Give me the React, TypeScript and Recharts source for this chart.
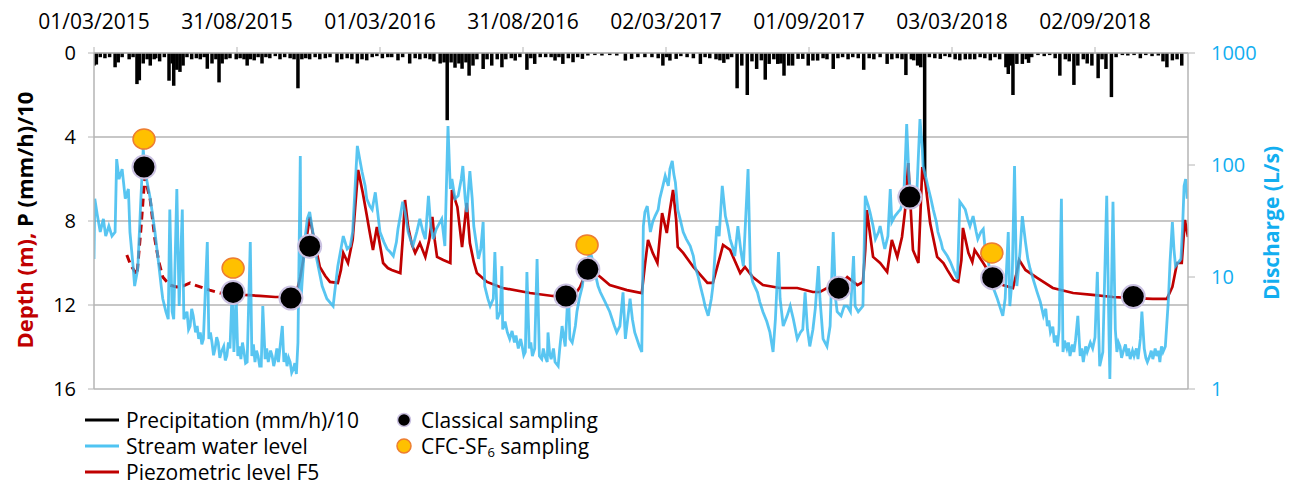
import { ComposedChart, Bar, Line, Scatter, XAxis, YAxis, CartesianGrid } from "recharts";

// x values are days since 01/03/2015
const dateTicks = [0, 183, 366, 549, 732, 915, 1098, 1281];
const dateLabels = ["01/03/2015", "31/08/2015", "01/03/2016", "31/08/2016", "02/03/2017", "01/09/2017", "03/03/2018", "02/09/2018"];
const depthTicks = [0, 4, 8, 12, 16];
const dischargeTicks = [1, 10, 100, 1000];

// [day, (mm/h)/10]
const precipitation: [number, number][] = [
  [0, 0.6], [3, 0.55], [8, 0.2], [14, 0.25], [20, 0.2], [27, 0.68], [31, 0.45], [36, 0.2], [45, 0.3], [50, 0.2],
  [55, 1.48], [58, 1.3], [63, 0.5], [68, 0.3], [72, 0.6], [77, 0.3], [79, 0.25], [84, 0.4], [90, 0.2], [96, 1.32],
  [100, 0.5], [102, 1.56], [106, 0.8], [110, 0.9], [114, 0.6], [119, 0.2], [125, 0.3], [131, 0.25], [136, 0.3], [141, 0.2],
  [145, 0.75], [151, 0.5], [156, 0.3], [160, 1.4], [164, 0.5], [169, 0.3], [174, 0.25], [182, 0.3], [187, 0.25], [192, 0.3],
  [196, 0.6], [200, 0.3], [205, 0.35], [210, 0.2], [215, 0.5], [220, 0.2], [225, 0.25], [232, 0.15], [238, 0.3], [244, 0.2],
  [251, 0.25], [256, 0.3], [261, 1.68], [266, 0.3], [271, 0.25], [276, 0.3], [283, 0.2], [289, 0.3], [296, 0.25], [302, 0.2],
  [311, 0.45], [317, 0.3], [324, 0.25], [330, 0.3], [337, 0.5], [343, 0.3], [349, 0.35], [356, 0.2], [362, 0.15], [369, 0.25],
  [376, 0.2], [381, 0.2], [389, 0.35], [395, 0.2], [404, 0.5], [411, 0.25], [417, 0.3], [424, 0.25], [430, 0.3], [435, 0.4],
  [443, 0.5], [448, 0.45], [452, 3.2], [457, 0.45], [462, 0.7], [467, 0.5], [471, 0.75], [476, 0.45], [480, 1.08], [485, 0.6],
  [490, 0.3], [498, 0.76], [503, 0.3], [509, 0.6], [516, 0.3], [522, 0.68], [527, 0.3], [534, 0.25], [539, 0.36], [545, 0.2],
  [554, 0.8], [559, 0.25], [564, 0.52], [571, 0.2], [578, 0.2], [585, 0.2], [590, 0.36], [595, 0.2], [600, 0.52], [607, 0.25],
  [613, 0.44], [619, 0.2], [625, 0.28], [632, 0.12], [641, 0.1], [650, 0.12], [660, 0.1], [669, 0.12], [680, 0.36], [688, 0.28],
  [696, 0.2], [705, 0.2], [714, 0.2], [722, 0.25], [728, 0.6], [733, 0.2], [737, 0.36], [745, 0.28], [751, 0.15], [759, 0.2],
  [767, 0.25], [776, 0.52], [782, 0.2], [788, 0.25], [796, 0.3], [801, 0.35], [806, 0.47], [811, 0.3], [816, 0.2], [823, 1.68],
  [829, 0.6], [836, 2.0], [842, 0.4], [848, 0.76], [854, 0.35], [859, 1.27], [864, 0.52], [870, 0.3], [875, 0.52], [879, 0.5],
  [883, 1.08], [889, 0.6], [894, 0.6], [901, 0.28], [907, 0.28], [914, 0.6], [920, 0.36], [926, 0.36], [933, 0.25], [938, 0.3],
  [946, 0.76], [952, 0.25], [958, 0.2], [965, 0.3], [971, 0.2], [978, 0.25], [985, 0.8], [992, 0.25], [998, 0.3], [1006, 0.2],
  [1015, 0.52], [1021, 0.3], [1028, 0.25], [1034, 0.3], [1039, 1.05], [1046, 0.3], [1049, 0.35], [1054, 0.6], [1058, 0.68], [1063, 5.9],
  [1069, 0.2], [1076, 0.25], [1083, 0.28], [1089, 0.15], [1095, 0.2], [1102, 0.3], [1108, 0.35], [1115, 0.3], [1121, 0.3], [1127, 0.3],
  [1134, 0.2], [1140, 0.25], [1147, 0.35], [1153, 0.2], [1159, 0.3], [1167, 0.68], [1170, 1.0], [1173, 0.6], [1176, 2.0], [1181, 0.52],
  [1188, 0.52], [1193, 0.3], [1196, 0.47], [1200, 0.2], [1208, 0.1], [1216, 0.15], [1223, 0.1], [1230, 0.25], [1236, 1.08], [1243, 0.3],
  [1248, 0.4], [1254, 1.52], [1259, 0.6], [1266, 0.3], [1271, 0.5], [1277, 0.6], [1285, 1.2], [1290, 0.3], [1295, 0.76], [1302, 2.1],
  [1308, 0.2], [1316, 0.1], [1323, 0.12], [1331, 0.1], [1339, 0.25], [1346, 0.1], [1354, 0.15], [1362, 0.12], [1368, 0.4], [1373, 0.68],
  [1380, 0.35], [1386, 0.3], [1392, 0.6],
];

// [day, L/s]
const streamLevel: [number, number][] = [
  [0, 14.5], [1, 50], [4, 36.5], [8, 25.2], [12, 33], [15, 23.2], [19, 28.5], [23, 23.2], [27, 25.2], [29, 113],
  [32, 75], [36, 92], [40, 50], [44, 61], [46, 25.2], [50, 12.5], [52, 8.3], [56, 11.8], [60, 50], [63, 139],
  [65, 92], [68, 70], [72, 50], [74, 40], [78, 25.2], [82, 14.5], [86, 8.3], [88, 6.4], [92, 4.9], [95, 4.2],
  [97, 40], [100, 4.9], [102, 4.2], [106, 61], [109, 5.5], [113, 40], [115, 4.2], [119, 4.9], [121, 3.4], [123, 3.65], [125, 5.2], [127, 4.5],
  [130, 3.2], [132, 3.65], [134, 2.8], [136, 3.2], [138, 2.5], [140, 2.8], [145, 20.5], [147, 2.8], [149, 3.2], [151, 2.6], [153, 2.0], [155, 2.3], [157, 2.9], [159, 2.6], [161, 1.9], [163, 2.14], [166, 2.4],
  [168, 1.8], [170, 1.97], [172, 2.6], [174, 2.3], [177, 8.3], [179, 2.14], [182, 6.4], [184, 1.97], [186, 2.4], [188, 1.85], [190, 2.6], [192, 2.14], [194, 1.7], [196, 1.74], [200, 20.5],
  [202, 1.97], [204, 2.5], [206, 1.74], [208, 2.2], [210, 1.97], [212, 1.6], [214, 1.6], [216, 5.5], [219, 1.85], [221, 2.3], [223, 1.74], [226, 2.2], [228, 1.97], [230, 1.6], [232, 1.85], [234, 2.3], [236, 1.74],
  [241, 3.65], [243, 1.74], [245, 2.1], [247, 1.6], [249, 1.9], [251, 1.74], [253, 1.4], [255, 1.5], [257, 1.7], [259, 1.36], [261, 2.6], [264, 120], [265, 6.4], [266, 8.3],
  [270, 21.8], [273, 33], [276, 38], [280, 25.2], [285, 14.5], [292, 8.3], [298, 6.4], [306, 5.5], [308, 7.3], [312, 12.5],
  [319, 23.2], [324, 17.8], [328, 18.9], [331, 25.2], [334, 61], [337, 148], [340, 113], [343, 87], [347, 65], [349, 50],
  [353, 43], [356, 40], [360, 57], [363, 38], [366, 25.2], [371, 20.5], [375, 17.8], [379, 16.7], [383, 15.4], [387, 20.5],
  [389, 26.8], [392, 35], [395, 47], [398, 38], [402, 25.2], [406, 20.5], [408, 18.9], [413, 25.2], [417, 33], [421, 25.2],
  [424, 21.8], [428, 53], [431, 28.5], [434, 21.8], [438, 26.8], [440, 28.5], [445, 33], [449, 18.9], [453, 223], [456, 61],
  [458, 75], [462, 50], [466, 53], [470, 75], [472, 98], [475, 50], [477, 38], [481, 88], [484, 50], [486, 28.5],
  [492, 14.5], [495, 17.8], [498, 31], [500, 8.3], [504, 6.4], [507, 5.5], [511, 6.4], [513, 16.7], [516, 4.2], [520, 4.9],
  [522, 12.5], [523, 3.4], [526, 4.0], [529, 3.2], [532, 2.8], [535, 3.3], [538, 2.6], [540, 3.0], [543, 2.3], [546, 2.8], [548, 2.4], [550, 2.0], [552, 2.14], [554, 11.1], [557, 2.3],
  [559, 2.6], [561, 1.97], [564, 2.3], [567, 14.5], [570, 1.97], [573, 1.85], [575, 2.3], [577, 1.97], [580, 1.74], [581, 3.2], [583, 2.1], [585, 1.85], [588, 2.3], [590, 1.74],
  [594, 1.6], [596, 2.3], [599, 3.65], [603, 2.4], [607, 8.3], [609, 2.8], [612, 2.6], [616, 3.65], [618, 4.9], [621, 6.4],
  [625, 8.3], [628, 12.5], [632, 14.5], [635, 16.7], [639, 13.6], [641, 11.1], [645, 8.3], [648, 7.3], [654, 6.0], [660, 4.9],
  [666, 3.65], [669, 3.2], [673, 3.65], [677, 7.3], [680, 2.8], [683, 4.2], [686, 6.4], [689, 4.2], [692, 3.2], [698, 2.4],
  [701, 2.14], [703, 28.5], [705, 38], [708, 43], [712, 25.2], [715, 31], [718, 35], [722, 40], [724, 50], [728, 65],
  [731, 80], [735, 65], [737, 92], [740, 109], [742, 83], [744, 70], [747, 40], [750, 33], [754, 25.2], [758, 21.8],
  [763, 18.9], [767, 15.4], [769, 12.5], [773, 10.2], [776, 8.3], [780, 6.4], [782, 5.5], [786, 4.5], [790, 6.4], [792, 8.3],
  [797, 28.5], [800, 23.2], [804, 65], [808, 35], [811, 28.5], [814, 21.8], [818, 17.8], [820, 15.4], [824, 28.5], [828, 16.7],
  [831, 12.5], [837, 92], [840, 11.1], [843, 9.0], [849, 7.3], [852, 6.0], [856, 4.9], [861, 4.0], [865, 3.2], [869, 2.14],
  [872, 4.2], [876, 16.7], [878, 6.4], [882, 3.65], [887, 4.5], [891, 5.5], [895, 4.2], [900, 2.8], [904, 3.2], [907, 3.4],
  [910, 7.3], [913, 3.4], [916, 2.4], [920, 3.4], [923, 5.2], [927, 12.5], [929, 6.4], [933, 2.8], [938, 2.4], [942, 3.65],
  [946, 25.2], [949, 6.4], [951, 4.9], [956, 4.5], [960, 5.5], [964, 5.5], [968, 4.9], [972, 15.4], [974, 5.5], [978, 4.9],
  [984, 5.5], [987, 53], [991, 43], [993, 38], [997, 28.5], [1000, 21.8], [1004, 25.2], [1006, 28.5], [1010, 20.5], [1012, 17.8],
  [1016, 23.2], [1019, 61], [1021, 31], [1025, 35], [1029, 38], [1032, 40], [1036, 50], [1038, 98], [1040, 232], [1043, 75],
  [1046, 50], [1050, 53], [1053, 57], [1057, 257], [1060, 139], [1061, 98], [1065, 75], [1067, 65], [1071, 50], [1074, 40],
  [1078, 31], [1080, 25.2], [1084, 20.5], [1086, 17.8], [1092, 15.4], [1096, 13.6], [1101, 11.1], [1105, 9.6], [1108, 47], [1112, 43],
  [1115, 40], [1118, 33], [1121, 28.5], [1125, 35], [1129, 25.2], [1131, 21.8], [1135, 25.2], [1138, 26.8], [1140, 18.9], [1143, 15.4],
  [1147, 11.1], [1150, 8.3], [1156, 6.4], [1159, 5.5], [1163, 4.5], [1166, 6.4], [1170, 25.2], [1172, 5.5], [1175, 9.6], [1178, 98],
  [1180, 14.5], [1181, 8.3], [1185, 16.7], [1188, 35], [1192, 20.5], [1195, 14.5], [1198, 11.8], [1203, 9.0], [1207, 7.3], [1211, 6.0],
  [1215, 4.5], [1218, 5.2], [1220, 3.65], [1222, 4.1], [1224, 3.2], [1227, 3.6], [1229, 2.6], [1231, 3.0], [1233, 2.4], [1235, 3.4], [1238, 50], [1240, 2.14], [1242, 2.7], [1245, 2.3], [1247, 2.6], [1249, 1.97],
  [1252, 2.5], [1254, 2.14], [1256, 2.7], [1259, 4.5], [1262, 1.97], [1264, 2.3], [1266, 1.74], [1269, 2.4], [1271, 2.14], [1275, 2.6], [1278, 2.3], [1281, 2.9], [1284, 11.1], [1286, 2.8], [1287, 1.6],
  [1291, 2.14], [1296, 53], [1299, 2.8], [1300, 1.23], [1304, 47], [1307, 3.4], [1309, 2.14], [1311, 2.6], [1313, 2.4], [1315, 1.9], [1317, 2.14], [1320, 2.5], [1322, 1.97], [1324, 2.3],
  [1326, 1.85], [1329, 2.2], [1331, 1.97], [1334, 2.3], [1336, 1.85], [1339, 2.8], [1341, 4.9], [1344, 2.3], [1346, 1.9], [1348, 1.74], [1351, 1.97], [1353, 2.2], [1355, 1.85], [1358, 2.3], [1360, 1.97],
  [1362, 2.2], [1364, 1.74], [1366, 2.4], [1368, 2.14], [1371, 2.4], [1375, 6.4], [1377, 13.6], [1380, 31], [1382, 17.8], [1384, 12.5], [1388, 13.6], [1391, 14.5],
  [1393, 26.8], [1395, 65], [1397, 75], [1399, 50],
];

// [day, depth m] - reconstructed start (dashed)
const piezoEstimated: [number, number][] = [
  [42, 9.62], [47, 10.1], [55, 10.57], [60, 8.4], [65, 5.9], [72, 7.0], [78, 8.9], [83, 9.95], [88, 10.67], [97, 11.05],
  [106, 11.14], [114, 11.1], [123, 10.95], [129, 11.05], [148, 11.29], [161, 11.43], [178, 11.43],
];

// [day, depth m]
const piezoLevel: [number, number][] = [
  [178, 11.43], [193, 11.52], [212, 11.57], [232, 11.62], [255, 11.62], [260, 11.29], [264, 10.67], [270, 9.38], [276, 7.81], [280, 8.57],
  [289, 10.19], [296, 10.62], [302, 10.9], [312, 10.95], [316, 10.33], [319, 9.52], [325, 10.0], [331, 8.9], [335, 7.0], [338, 5.57],
  [344, 6.67], [349, 7.71], [353, 8.57], [357, 9.38], [362, 8.29], [366, 9.14], [370, 10.0], [376, 10.24], [381, 10.33], [392, 10.48],
  [395, 8.9], [398, 7.0], [402, 8.29], [407, 9.14], [411, 9.52], [417, 9.05], [424, 9.71], [429, 8.9], [433, 7.81], [436, 8.9],
  [439, 9.71], [447, 9.86], [456, 10.0], [458, 6.52], [465, 7.33], [471, 9.24], [477, 7.14], [481, 9.05], [486, 9.95], [490, 10.48],
  [503, 10.9], [523, 11.19], [558, 11.43], [587, 11.57], [605, 11.62], [616, 11.48], [622, 11.14], [632, 10.24], [640, 10.43], [648, 10.67],
  [660, 11.05], [682, 11.29], [701, 11.43], [705, 10.1], [709, 8.9], [715, 9.52], [721, 10.0], [727, 7.62], [733, 8.57], [737, 7.48],
  [741, 6.52], [745, 7.95], [747, 9.24], [754, 9.52], [767, 10.19], [785, 10.95], [792, 10.95], [801, 9.71], [805, 9.14], [814, 9.38],
  [827, 10.48], [833, 10.19], [843, 10.67], [856, 11.05], [878, 11.19], [900, 11.19], [920, 11.38], [929, 11.38], [938, 11.19], [952, 11.19],
  [964, 10.67], [977, 11.05], [984, 10.9], [987, 9.38], [989, 7.48], [997, 9.71], [1006, 10.0], [1015, 10.43], [1021, 8.9], [1028, 9.71],
  [1034, 8.76], [1038, 7.48], [1042, 5.24], [1048, 9.38], [1055, 10.0], [1060, 5.43], [1064, 6.19], [1070, 8.1], [1079, 9.71], [1087, 10.0],
  [1092, 10.33], [1100, 10.81], [1106, 10.9], [1110, 9.86], [1112, 8.33], [1119, 9.52], [1124, 9.95], [1127, 9.38], [1138, 10.0], [1149, 10.67],
  [1163, 11.05], [1176, 11.19], [1180, 10.57], [1184, 9.86], [1192, 10.33], [1207, 10.71], [1227, 11.19], [1253, 11.43], [1278, 11.52], [1304, 11.62],
  [1330, 11.67], [1355, 11.71], [1373, 11.71], [1380, 11.14], [1386, 10.0], [1392, 10.0], [1396, 7.95], [1400, 8.76],
];

const classicalSampling: [number, number][] = [
  [64, 5.43], [178, 11.4], [252, 11.67], [276, 9.2], [604, 11.57], [632, 10.3], [953, 11.2], [1044, 6.86], [1150, 10.7], [1330, 11.6],
];
const cfcSampling: [number, number][] = [[64, 4.1], [178, 10.24], [631, 9.14], [1149, 9.52]];

const FONT = "'Open Sans', 'Noto Sans', sans-serif";
const BLUE_TXT = "#12aef0";
const GRID = "#b4b4b4";

// precipitation hangs down from 0 on the reversed depth axis
const PrecipBar = (props: any) => {
  const { x, y, width, height } = props;
  if (x == null || y == null) return null;
  const top = Math.min(y, y + height);
  return <rect x={x + width / 2 - 1.75} y={top} width={3.5} height={Math.abs(height)} fill="#000" />;
};

const ClassicalDot = (props: any) => {
  const { cx, cy } = props;
  if (cx == null || cy == null) return null;
  return <circle cx={cx} cy={cy} r={11.5} fill="#000" stroke="#cbc2e2" strokeWidth={2} />;
};

const CfcDot = (props: any) => {
  const { cx, cy } = props;
  if (cx == null || cy == null) return null;
  return <ellipse cx={cx} cy={cy} rx={11} ry={10} fill="#FFC000" stroke="#ED7D31" strokeWidth={1.5} />;
};

export default function App() {
  const precipData = precipitation.map(([d, p]) => ({ d, p }));
  const streamData = streamLevel.map(([d, q]) => ({ d, q }));
  const estData = piezoEstimated.map(([d, v]) => ({ d, v }));
  const piezoData = piezoLevel.map(([d, v]) => ({ d, v }));
  const classicalData = classicalSampling.map(([d, v]) => ({ d, v }));
  const cfcData = cfcSampling.map(([d, v]) => ({ d, v }));

  return (
    <div style={{ position: "absolute", left: 0, top: 0, width: 1298, height: 493, background: "#fff", fontFamily: FONT }}>
      <ComposedChart width={1298} height={412} data={precipData} margin={{ top: 13, right: 50, bottom: 23, left: 34 }}>
        <CartesianGrid yAxisId="left" vertical={false} stroke={GRID} strokeWidth={1.5} />
        <XAxis
          orientation="top"
          type="number"
          dataKey="d"
          domain={[0, 1400]}
          allowDataOverflow
          ticks={dateTicks}
          tickFormatter={(v: number) => dateLabels[dateTicks.indexOf(v)]}
          height={40}
          tickSize={6}
          tickMargin={18}
          tick={{ fontSize: 21, fill: "#000", fontFamily: FONT }}
          axisLine={{ stroke: GRID, strokeWidth: 1.5 }}
          tickLine={{ stroke: GRID }}
        />
        <YAxis
          yAxisId="left"
          reversed
          domain={[0, 16]}
          ticks={depthTicks}
          allowDataOverflow
          width={60}
          tickSize={6}
          tickMargin={12}
          tick={{ fontSize: 20, fill: "#000", fontFamily: FONT }}
          axisLine={{ stroke: GRID, strokeWidth: 1.5 }}
          tickLine={{ stroke: GRID }}
        />
        <YAxis
          yAxisId="right"
          orientation="right"
          scale="log"
          domain={[1, 1000]}
          ticks={dischargeTicks}
          allowDataOverflow
          width={60}
          tickSize={7}
          tickMargin={16}
          tick={{ fontSize: 20, fill: BLUE_TXT, fontFamily: FONT }}
          axisLine={{ stroke: GRID, strokeWidth: 1.5 }}
          tickLine={{ stroke: GRID }}
        />
        <Bar yAxisId="left" dataKey="p" fill="#000" shape={PrecipBar} isAnimationActive={false} />
        <Line yAxisId="left" data={estData} dataKey="v" stroke="#C00000" strokeWidth={3} strokeDasharray="8 5" dot={false} isAnimationActive={false} />
        <Line yAxisId="left" data={piezoData} dataKey="v" stroke="#C00000" strokeWidth={2.7} dot={false} isAnimationActive={false} />
        <Scatter yAxisId="left" data={classicalData} dataKey="v" shape={ClassicalDot} isAnimationActive={false} />
        <Line yAxisId="right" data={streamData} dataKey="q" stroke="#33b8ee" strokeOpacity={0.82} strokeWidth={2.8} dot={false} isAnimationActive={false} />
        <Scatter yAxisId="left" data={cfcData} dataKey="v" shape={CfcDot} isAnimationActive={false} />
      </ComposedChart>

      <svg width={1298} height={493} style={{ position: "absolute", left: 0, top: 0, pointerEvents: "none" }} fontFamily={FONT}>
        <text transform="translate(24,220) rotate(-90)" textAnchor="middle" dominantBaseline="central" fontSize={22} fontWeight="bold">
          <tspan fill="#C00000">Depth (m), </tspan>
          <tspan fill="#000">P (mm/h)/10</tspan>
        </text>
        <text transform="translate(1271,223) rotate(-90)" textAnchor="middle" dominantBaseline="central" fontSize={21} fontWeight="bold" fill={BLUE_TXT}>
          Discharge (L/s)
        </text>

        <g fontSize={21} fill="#000">
          <line x1={85} x2={119} y1={420} y2={420} stroke="#000" strokeWidth={3} />
          <text x={126} y={420} dominantBaseline="central">Precipitation (mm/h)/10</text>
          <line x1={85} x2={119} y1={446} y2={446} stroke="#4fc4f2" strokeWidth={3} />
          <text x={126} y={446} dominantBaseline="central">Stream water level</text>
          <line x1={85} x2={119} y1={472} y2={472} stroke="#C00000" strokeWidth={3} />
          <text x={126} y={472} dominantBaseline="central">Piezometric level F5</text>

          <circle cx={404} cy={420} r={6.5} fill="#000" stroke="#cbc2e2" strokeWidth={1.5} />
          <text x={421} y={420} dominantBaseline="central">Classical sampling</text>
          <circle cx={404} cy={446} r={7} fill="#FFC000" stroke="#ED7D31" strokeWidth={1.5} />
          <text x={421} y={446} dominantBaseline="central">
            <tspan>CFC-SF</tspan>
            <tspan fontSize={13} dy={6}>6</tspan>
            <tspan dy={-6}> sampling</tspan>
          </text>
        </g>
      </svg>
    </div>
  );
}
